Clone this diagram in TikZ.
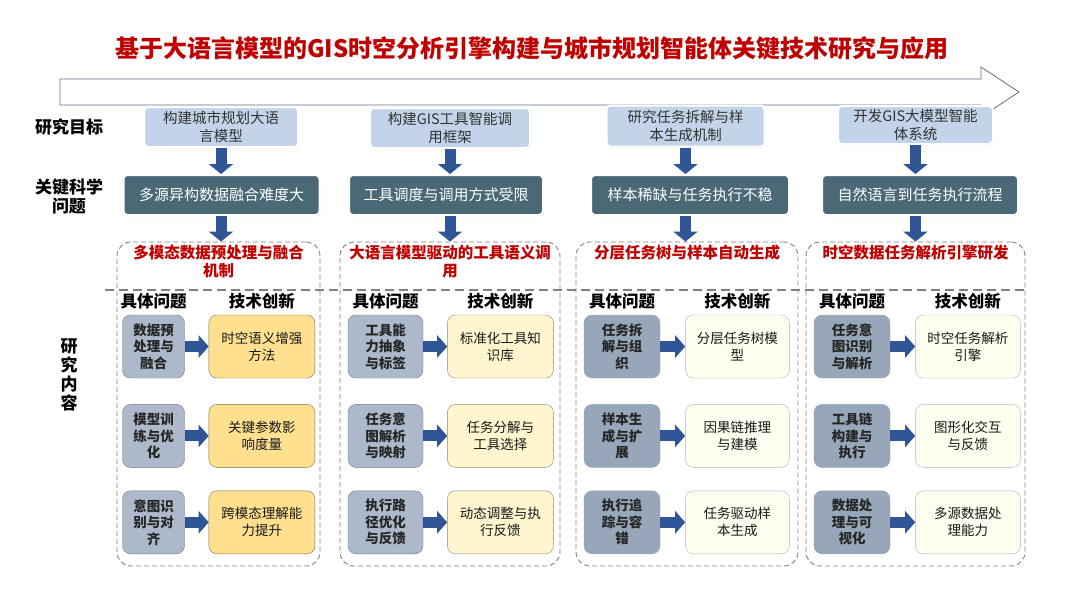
\documentclass[tikz,border=0pt]{standalone}
\usepackage{fontspec}
\setmainfont{Noto Sans CJK SC}
\usetikzlibrary{positioning}
\usetikzlibrary{arrows.meta}
\usetikzlibrary{shadows}
\definecolor{titlered}{HTML}{C00000}
\definecolor{goalblue}{HTML}{C3D4EA}
\definecolor{probslate}{HTML}{4B6877}
\definecolor{arrowblue}{HTML}{2F5597}
\definecolor{arrowline}{HTML}{5E7189}
\definecolor{issuegrey}{HTML}{ADB9CA}
\definecolor{issueedge}{HTML}{6C7C8E}
\definecolor{issuedark}{HTML}{97A6B8}
\definecolor{innoyellow}{HTML}{FFE08F}
\definecolor{innoyedge}{HTML}{7F7050}
\definecolor{innolight}{HTML}{FFF6CF}
\definecolor{innoledge}{HTML}{8A8A70}
\definecolor{innopale}{HTML}{FDFDF0}
\definecolor{innopedge}{HTML}{A9B8C8}

\begin{document}
\begin{tikzpicture}[x=1pt, y=-1pt,
  rowlab/.style={font=\fontsize{17}{19}\selectfont\bfseries, align=center, inner sep=1pt},
  goal/.style={draw=white, line width=2pt, fill=goalblue, rounded corners=4pt,
    drop shadow={shadow xshift=0.8pt, shadow yshift=-1.2pt, opacity=0.3},
    align=center, text=black!80, font=\fontsize{14.5}{18}\selectfont, inner sep=1pt},
  problem/.style={draw=white, line width=2pt, fill=probslate, rounded corners=4pt,
    drop shadow={shadow xshift=0.8pt, shadow yshift=-1.2pt, opacity=0.3},
    text=white, font=\fontsize{15}{18}\selectfont, minimum height=40pt},
  panel/.style={draw=black!50, dash pattern=on 5pt off 3pt, line width=0.9pt,
    rounded corners=14pt, minimum height=324pt},
  ptitle/.style={text=titlered, font=\fontsize{15.5}{18}\selectfont\bfseries, align=center, inner sep=1pt},
  sepline/.style={draw=black!50, line width=2pt, dash pattern=on 9pt off 5pt},
  colhead/.style={font=\fontsize{16.5}{18}\selectfont\bfseries, inner sep=1pt},
  issue/.style={draw=issueedge, fill=issuegrey, rounded corners=8pt, minimum height=63pt,
    align=center, font=\fontsize{13.5}{16.5}\selectfont\bfseries, text=black!85, inner sep=1pt},
  innov/.style={rounded corners=8pt, minimum height=63pt, minimum width=105pt,
    align=center, font=\fontsize{13.5}{17}\selectfont, text=black!90, inner sep=1pt},
  darr/.style={draw=arrowblue, line width=11pt, -{Triangle[width=24pt,length=10pt]}},
  rarr/.style={draw=arrowblue, line width=11pt, -{Triangle[width=22pt,length=10pt]}}
]
\fill[white] (0,0) rectangle (1080,608);
\useasboundingbox (0,0) rectangle (1080,608);

% title and time line
\node[text=titlered, font=\fontsize{24}{28}\selectfont\bfseries] (title) at (532,48)
  {基于大语言模型的GIS时空分析引擎构建与城市规划智能体关键技术研究与应用};
\draw[draw=arrowline, line width=0.8pt, fill=white] (60,79) -- (981,79) -- (981,67)
  -- (1019,92) -- (981,117) -- (981,105) -- (60,105) -- cycle;

% row labels
\node[rowlab] (lgoal) at (69,127) {研究目标};
\node[rowlab] (lprob) at (69,196) {关键科学\\问题};
\node[rowlab] (lcont) at (69,375) {研\\究\\内\\容};

% research goals
\node[goal, minimum width=154pt, minimum height=40pt] (gl1) at (221,127) {构建城市规划大语\\言模型};
\node[goal, minimum width=160pt, minimum height=40pt] (gl2) at (450,128) {构建GIS工具智能调\\用框架};
\node[goal, minimum width=158pt, minimum height=41pt] (gl3) at (685.5,126) {研究任务拆解与样\\本生成机制};
\node[goal, minimum width=155pt, minimum height=38pt] (gl4) at (915.5,125) {开发GIS大模型智能\\体系统};

% key problems
\node[problem, minimum width=196pt] (pb1) at (221.5,195) {多源异构数据融合难度大};
\node[problem, minimum width=194pt] (pb2) at (446,195) {工具调度与调用方式受限};
\node[problem, minimum width=198pt] (pb3) at (690,195) {样本稀缺与任务执行不稳};
\node[problem, minimum width=196pt] (pb4) at (920,195) {自然语言到任务执行流程};

% content panels
\node[panel, minimum width=203pt] (pan1) at (218.5,404) {};
\node[panel, minimum width=220pt] (pan2) at (450,404) {};
\node[panel, minimum width=222pt] (pan3) at (687,404) {};
\node[panel, minimum width=219pt] (pan4) at (915.5,404) {};
\coordinate (sepL) at (105,290);
\coordinate (sepR) at (1026,290);
\draw[sepline] (sepL) -- (sepR);

\node[ptitle, below=2pt of pan1.north] (pt1) {多模态数据预处理与融合\\机制};
\node[ptitle, below=2pt of pan2.north] (pt2) {大语言模型驱动的工具语义调\\用};
\node[ptitle, below=2pt of pan3.north] (pt3) {分层任务树与样本自动生成};
\node[ptitle, below=2pt of pan4.north] (pt4) {时空数据任务解析引擎研发};

% column 1
\node[issue, minimum width=62pt] (q11) at (153.5,346.5) {数据预\\处理与\\融合};
\node[issue, minimum width=62pt, below=26pt of q11] (q12) {模型训\\练与优\\化};
\node[issue, minimum width=62pt, below=23pt of q12] (q13) {意图识\\别与对\\齐};
\node[innov, draw=innoyedge, fill=innoyellow, minimum width=106pt, right=24pt of q11] (t11) {时空语义增强\\方法};
\node[innov, draw=innoyedge, fill=innoyellow, minimum width=106pt, right=24pt of q12] (t12) {关键参数影\\响度量};
\node[innov, draw=innoyedge, fill=innoyellow, minimum width=106pt, right=24pt of q13] (t13) {跨模态理解能\\力提升};

% column 2
\node[issue, minimum width=75pt] (q21) at (385.5,346.5) {工具能\\力抽象\\与标签};
\node[issue, minimum width=75pt, below=26pt of q21] (q22) {任务意\\图解析\\与映射};
\node[issue, minimum width=75pt, below=23pt of q22] (q23) {执行路\\径优化\\与反馈};
\node[innov, draw=innoledge, fill=innolight, minimum width=106pt, right=24pt of q21] (t21) {标准化工具知\\识库};
\node[innov, draw=innoledge, fill=innolight, minimum width=106pt, right=24pt of q22] (t22) {任务分解与\\工具选择};
\node[innov, draw=innoledge, fill=innolight, minimum width=106pt, right=24pt of q23] (t23) {动态调整与执\\行反馈};

% column 3
\node[issue, draw=issuedark, fill=issuedark, minimum width=76pt] (q31) at (622,346.5) {任务拆\\解与组\\织};
\node[issue, draw=issuedark, fill=issuedark, minimum width=76pt, below=26pt of q31] (q32) {样本生\\成与扩\\展};
\node[issue, draw=issuedark, fill=issuedark, minimum width=76pt, below=23pt of q32] (q33) {执行追\\踪与容\\错};
\node[innov, draw=innopedge, fill=innopale, minimum width=104pt, right=25pt of q31] (t31) {分层任务树模\\型};
\node[innov, draw=innopedge, fill=innopale, minimum width=104pt, right=25pt of q32] (t32) {因果链推理\\与建模};
\node[innov, draw=innopedge, fill=innopale, minimum width=104pt, right=25pt of q33] (t33) {任务驱动样\\本生成};

% column 4
\node[issue, draw=issuedark, fill=issuedark, minimum width=76pt] (q41) at (852,346.5) {任务意\\图识别\\与解析};
\node[issue, draw=issuedark, fill=issuedark, minimum width=76pt, below=26pt of q41] (q42) {工具链\\构建与\\执行};
\node[issue, draw=issuedark, fill=issuedark, minimum width=76pt, below=23pt of q42] (q43) {数据处\\理与可\\视化};
\node[innov, draw=innopedge, fill=innopale, minimum width=105pt, right=25pt of q41] (t41) {时空任务解析\\引擎};
\node[innov, draw=innopedge, fill=innopale, minimum width=105pt, right=25pt of q42] (t42) {图形化交互\\与反馈};
\node[innov, draw=innopedge, fill=innopale, minimum width=105pt, right=25pt of q43] (t43) {多源数据处\\理能力};

% column heads
\node[colhead, above=5pt of q11] (hq1) {具体问题};
\node[colhead, above=5pt of t11] (hi1) {技术创新};
\node[colhead, above=5pt of q21] (hq2) {具体问题};
\node[colhead, above=5pt of t21] (hi2) {技术创新};
\node[colhead, above=5pt of q31] (hq3) {具体问题};
\node[colhead, above=5pt of t31] (hi3) {技术创新};
\node[colhead, above=5pt of q41] (hq4) {具体问题};
\node[colhead, above=5pt of t41] (hi4) {技术创新};

% arrows
\draw[darr] (gl1.south) -- (gl1.south |- pb1.north);
\draw[darr] (gl2.south) -- (gl2.south |- pb2.north);
\draw[darr] (gl3.south) -- (gl3.south |- pb3.north);
\draw[darr] (gl4.south) -- (gl4.south |- pb4.north);
\draw[darr] (gl1.south |- pb1.south) -- (gl1.south |- pan1.north);
\draw[darr] (gl2.south |- pb2.south) -- (gl2.south |- pan2.north);
\draw[darr] (gl3.south |- pb3.south) -- (gl3.south |- pan3.north);
\draw[darr] (gl4.south |- pb4.south) -- (gl4.south |- pan4.north);

\draw[rarr] (q11) -- (t11);
\draw[rarr] (q12) -- (t12);
\draw[rarr] (q13) -- (t13);
\draw[rarr] (q21) -- (t21);
\draw[rarr] (q22) -- (t22);
\draw[rarr] (q23) -- (t23);
\draw[rarr] (q31) -- (t31);
\draw[rarr] (q32) -- (t32);
\draw[rarr] (q33) -- (t33);
\draw[rarr] (q41) -- (t41);
\draw[rarr] (q42) -- (t42);
\draw[rarr] (q43) -- (t43);
\end{tikzpicture}
\end{document}
